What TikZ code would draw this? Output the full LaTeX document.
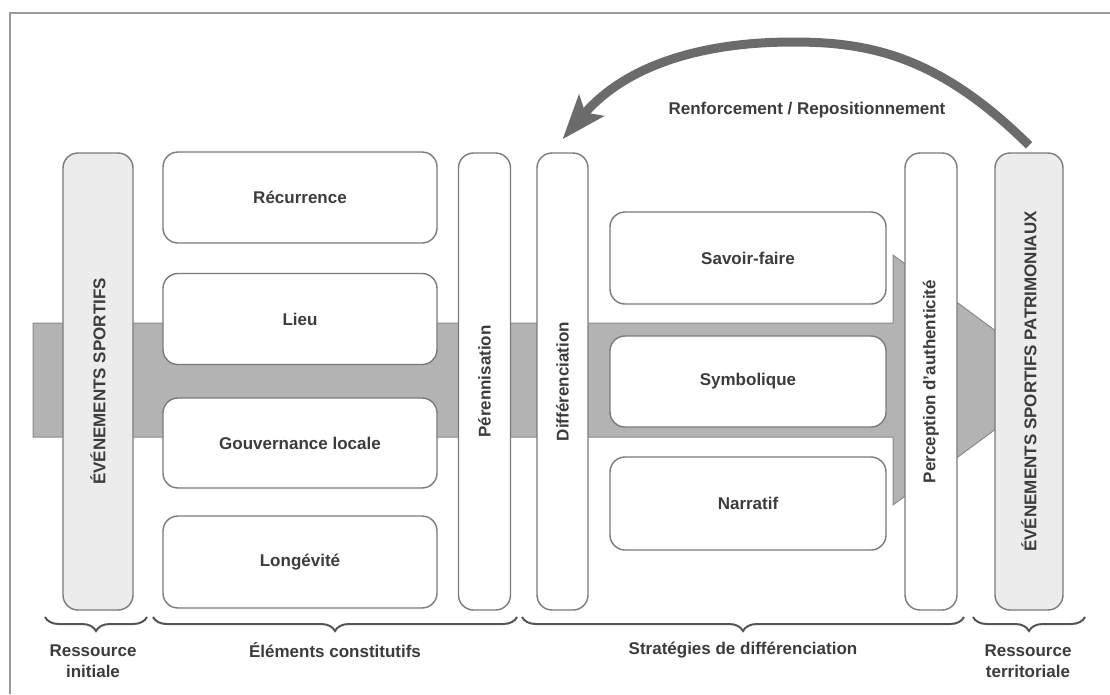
\documentclass[tikz,border=0pt]{standalone}
\usepackage{fontspec}
\setmainfont{Liberation Sans}
\usetikzlibrary{arrows.meta,decorations.pathreplacing,calc}
\definecolor{framecol}{HTML}{9A9A9A}
\definecolor{boxline}{HTML}{7A7A7A}
\definecolor{pillfill}{HTML}{ECECEC}
\definecolor{bandfill}{HTML}{B3B3B3}
\definecolor{bandline}{HTML}{8A8A8A}
\definecolor{arrowcol}{HTML}{6B6B6B}
\definecolor{txt}{HTML}{3C3C3C}
\definecolor{bracecol}{HTML}{555555}
\begin{document}
\begin{tikzpicture}[x=1pt,y=-1pt,
  lbl/.style={font=\fontsize{17}{21}\selectfont\bfseries, text=txt},
  box/.style={lbl, draw=boxline, line width=1.4pt, rounded corners=15pt, fill=white, minimum width=274pt, minimum height=91pt, inner sep=0pt},
  pillar/.style={lbl, draw=boxline, line width=1.4pt, rounded corners=15pt, fill=white, rotate=90, minimum width=457pt, inner sep=0pt},
  evpillar/.style={pillar, fill=pillfill},
  brc/.style={decorate, decoration={brace, mirror, amplitude=14pt}, draw=bracecol, line width=2pt},
  bcap/.style={lbl, align=center}
]
\useasboundingbox (0,0) rectangle (1110,694);
\draw[framecol, line width=1.5pt] (10,694) -- (10,13) -- (1110,13);
% band arrow
\draw[fill=bandfill, draw=bandline, line width=1pt] (33,323) -- (893,323) -- (893,255) -- (1062,380) -- (893,505) -- (893,437) -- (33,437) -- cycle;
% pillars and boxes
\node[evpillar, minimum height=70pt] (evs) at (98,381.5) {ÉVÉNEMENTS SPORTIFS};
\node[box] (rec) at (300,197.5) {Récurrence};
\node[box] (lieu) at (300,319) {Lieu};
\node[box, minimum height=90pt] (gouv) at (300,443) {Gouvernance locale};
\node[box, minimum height=92pt] (long) at (300,562) {Longévité};
\node[pillar, minimum height=52pt] (per) at (484.5,381.5) {Pérennisation};
\node[pillar, minimum height=51pt] (dif) at (562.5,381.5) {Différenciation};
\node[box, minimum width=276pt, minimum height=92pt] (sav) at (748,258) {Savoir-faire};
\node[box, minimum width=276pt] (sym) at (748,381.5) {Symbolique};
\node[box, minimum width=276pt, minimum height=93pt] (nar) at (748,503.5) {Narratif};
\node[pillar, minimum height=52pt] (aut) at (931,381.5) {Perception d’authenticité};
\node[evpillar, minimum height=68pt] (evp) at (1029,381.5) {ÉVÉNEMENTS SPORTIFS PATRIMONIAUX};
% feedback arrow
\coordinate (apex) at (793,42);
\draw[arrowcol, line width=9pt, -{Stealth[length=44pt,width=32pt,inset=9pt]}] ([yshift=7pt]evp.east) .. controls (938,55) and (868,42) .. (apex) .. controls (700,42) and (625,66) .. ([yshift=13pt]dif.east);
\node[lbl] (renf) at (807,110) {Renforcement / Repositionnement};
% braces
\coordinate (b1l) at (45,617); \coordinate (b1r) at (147,617);
\coordinate (b2l) at (153,617); \coordinate (b2r) at (517,617);
\coordinate (b3l) at (522,617); \coordinate (b3r) at (964,617);
\coordinate (b4l) at (973,617); \coordinate (b4r) at (1085,617);
\draw[brc] (b1l) -- (b1r);
\draw[brc] (b2l) -- (b2r);
\draw[brc] (b3l) -- (b3r);
\draw[brc] (b4l) -- (b4r);
\node[bcap] (c1) at (93,661) {Ressource\\initiale};
\node[bcap] (c2) at (335,650) {Éléments constitutifs};
\node[bcap] (c3) at (743,650) {Stratégies de différenciation};
\node[bcap] (c4) at (1028,661) {Ressource\\territoriale};
\end{tikzpicture}
\end{document}
